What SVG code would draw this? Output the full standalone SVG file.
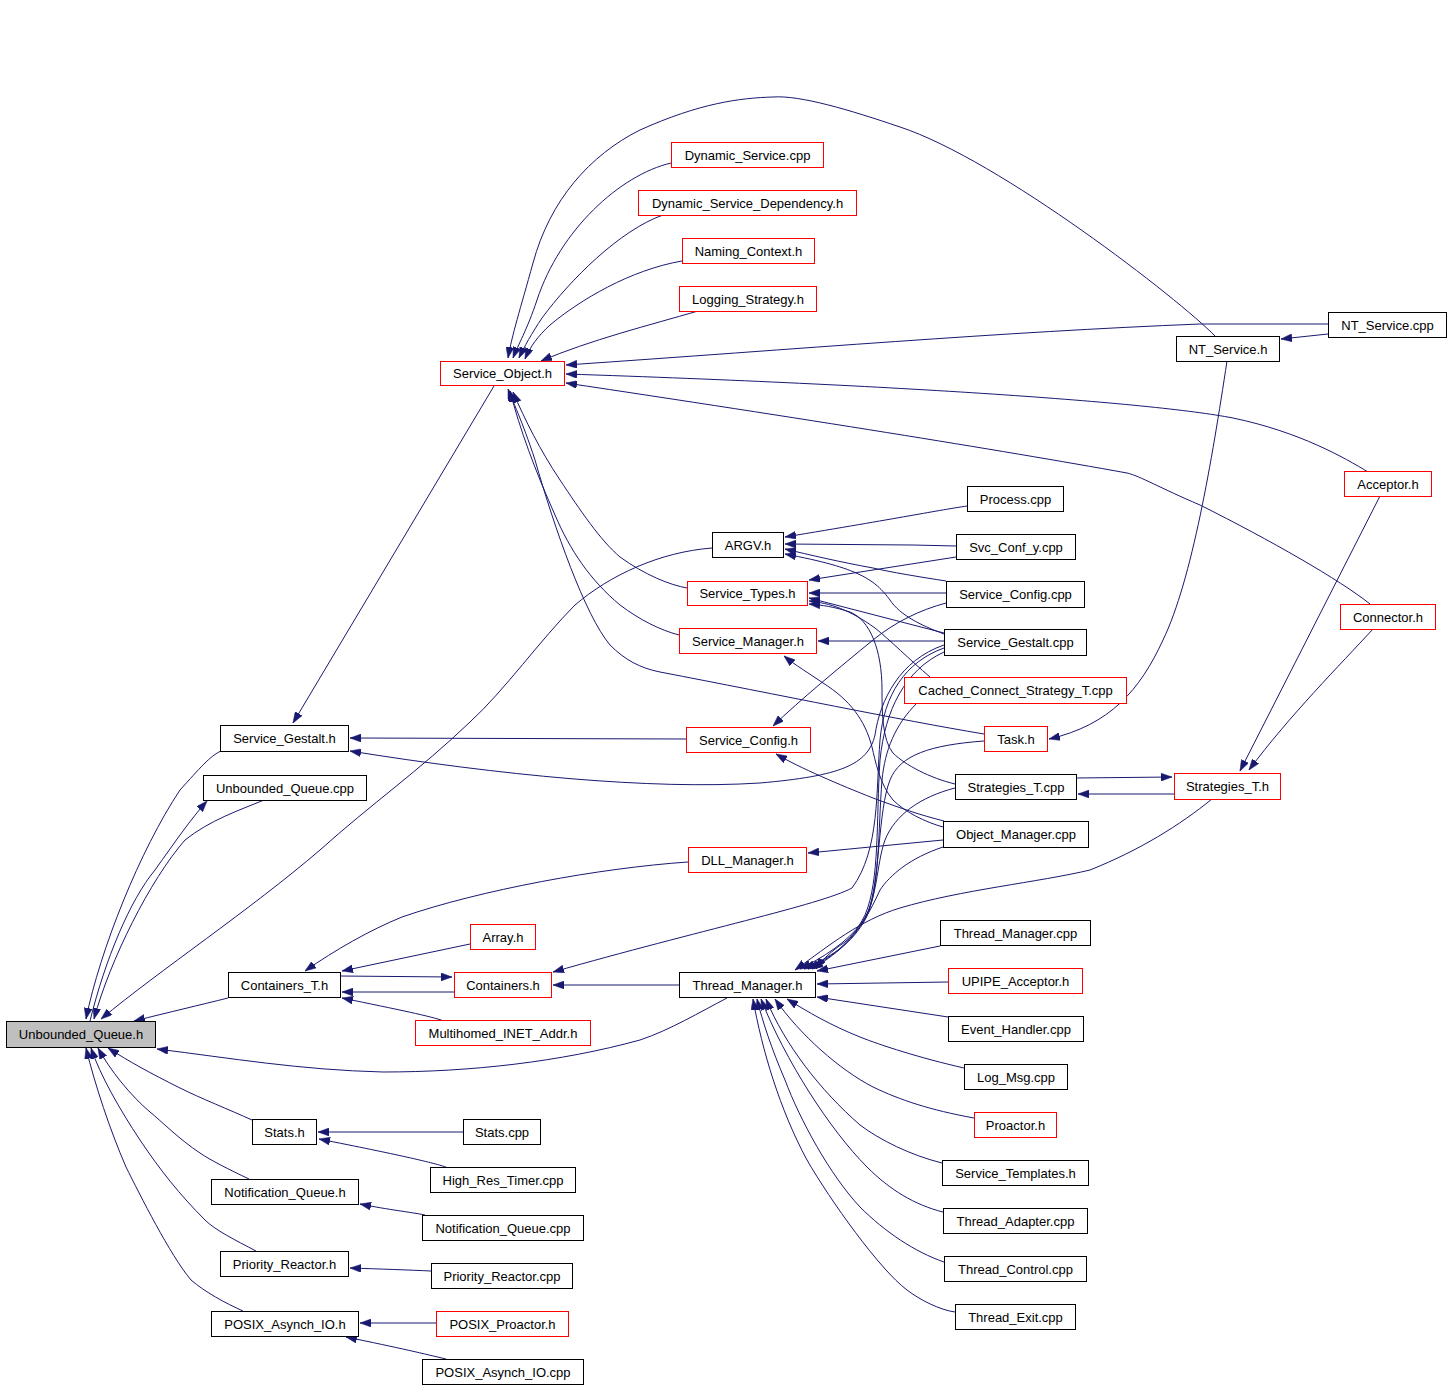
<svg xmlns="http://www.w3.org/2000/svg" width="1451" height="1388" viewBox="0 0 1451 1388">
<style>
.n rect{fill:#fff;stroke:#000;stroke-width:1}
.n.r rect{stroke:#f00}
.n.root rect{fill:#bfbfbf}
.n text{font-family:"Liberation Sans",Arial,sans-serif;font-size:13px;fill:#000;text-anchor:middle}
#edges path{fill:none;stroke:#191970;stroke-width:1;marker-end:url(#arr)}
</style>
<defs>
<marker id="arr" markerWidth="11" markerHeight="8" refX="11" refY="4" orient="auto" markerUnits="userSpaceOnUse"><path d="M0,0L11,4L0,8z" fill="#191970" stroke="#191970" stroke-width="0.5"/></marker>
</defs>
<rect width="1451" height="1388" fill="#fff"/>
<g id="edges">
<path d="M1215,336 C1180,300 1000,160 900,127 C850,110 800,95 773,97 C740,98 700,103 640,130 C590,155 550,200 533,263 C520,310 512,335 508,358"/>
<path d="M671,163 C620,175 560,230 537,300 C527,330 518,345 513,358"/>
<path d="M663,215 C620,230 570,280 542,318 C532,333 524,347 519,358"/>
<path d="M682,261 C630,270 580,300 550,325 C538,336 530,347 525,359"/>
<path d="M698,311 C650,325 590,340 541,361"/>
<path d="M1328,324 L1200,324 C1000,332 800,349 566,365"/>
<path d="M1368,472 C1345,458 1300,432 1233,418 C1150,402 900,385 566,374"/>
<path d="M1370,604 C1340,580 1270,540 1200,505 C1160,488 1140,476 1127,473 C1000,450 800,418 566,383"/>
<path d="M1328,334 L1281,339"/>
<path d="M1227,361 C1212,460 1192,580 1163,640 C1140,690 1110,725 1049,739"/>
<path d="M1380,496 L1240,771"/>
<path d="M1373,629 C1340,665 1290,715 1249,770"/>
<path d="M1076,778 L1172,777"/>
<path d="M1174,794 L1078,794"/>
<path d="M1212,799 C1180,825 1140,850 1090,870 C1040,882 960,890 900,908 C860,920 830,945 795,970"/>
<path d="M940,946 L817,971"/>
<path d="M948,982 L817,984"/>
<path d="M948,1017 L817,997"/>
<path d="M964,1068 C920,1058 880,1045 860,1037 C830,1025 808,1012 787,999"/>
<path d="M974,1118 C930,1110 900,1100 873,1087 C840,1070 800,1035 775,999"/>
<path d="M942,1163 C910,1155 880,1140 860,1125 C820,1090 785,1045 766,999"/>
<path d="M943,1212 C915,1205 890,1190 867,1167 C830,1130 785,1060 761,999"/>
<path d="M944,1262 C915,1252 885,1232 860,1207 C830,1175 800,1120 785,1080 C772,1050 762,1020 757,999"/>
<path d="M955,1312 C940,1310 920,1300 907,1290 C880,1270 830,1200 807,1160 C780,1110 762,1050 753,999"/>
<path d="M727,998 C700,1012 670,1030 640,1040 C560,1062 470,1072 383,1072 C300,1070 230,1058 157,1049"/>
<path d="M679,985 L553,985"/>
<path d="M340,976 L452,977"/>
<path d="M454,992 L342,992"/>
<path d="M470,944 L342,971"/>
<path d="M444,1021 C430,1016 400,1010 342,998"/>
<path d="M688,862 C600,868 480,890 402,917 C370,930 335,950 305,971"/>
<path d="M944,648 C905,662 884,695 880,740 C876,790 880,850 852,888 C820,905 700,930 553,972"/>
<path d="M944,645 C900,660 880,700 875,735 C868,765 840,776 760,783 C650,790 500,775 350,751"/>
<path d="M686,739 L350,738"/>
<path d="M494,386 L293,723"/>
<path d="M221,751 C210,756 200,768 180,790 C140,850 100,950 86,1019"/>
<path d="M264,800 C240,810 210,820 185,840 C150,880 110,960 94,1019"/>
<path d="M90,1021 C105,960 130,900 155,870 C175,842 190,820 207,801"/>
<path d="M712,548 C660,552 610,575 575,605 C540,640 505,690 470,722 C420,770 370,805 320,850 C250,910 160,970 101,1019"/>
<path d="M228,998 C200,1005 170,1012 134,1021"/>
<path d="M252,1120 C230,1110 200,1098 180,1088 C150,1073 130,1062 108,1048"/>
<path d="M249,1179 C230,1170 210,1160 200,1153 C180,1140 160,1120 150,1112 C130,1095 110,1070 98,1048"/>
<path d="M256,1251 C235,1240 215,1230 205,1220 C180,1195 160,1170 140,1140 C120,1110 100,1075 91,1048"/>
<path d="M243,1311 C225,1303 205,1292 191,1280 C170,1255 140,1195 126,1167 C110,1130 95,1085 86,1048"/>
<path d="M463,1132 L318,1132"/>
<path d="M446,1167 C430,1162 400,1155 319,1139"/>
<path d="M425,1215 C410,1212 390,1210 360,1204"/>
<path d="M431,1271 C410,1270 380,1269 350,1268"/>
<path d="M436,1323 L360,1323"/>
<path d="M446,1359 C425,1354 400,1348 346,1337"/>
<path d="M967,506 C940,510 900,518 785,537"/>
<path d="M956,546 L913,545 L785,544"/>
<path d="M946,581 C920,577 890,572 873,568 C840,562 810,555 785,549"/>
<path d="M944,634 C920,625 900,615 890,600 C875,580 860,568 785,554"/>
<path d="M956,557 L809,580"/>
<path d="M946,593 L809,593"/>
<path d="M944,633 L809,598"/>
<path d="M930,677 C910,660 890,640 875,628 C850,610 830,603 809,601"/>
<path d="M955,784 C930,778 905,765 893,753 C882,740 882,710 882,690 C882,650 870,620 850,612 C835,607 822,605 809,604"/>
<path d="M944,641 L818,641"/>
<path d="M943,827 C925,822 905,812 893,800 C880,785 875,760 872,747 C865,720 850,700 823,683 C810,674 795,665 784,656"/>
<path d="M946,603 C920,610 895,622 873,640 C840,667 800,700 773,726"/>
<path d="M944,821 C920,815 900,808 873,798 C840,785 800,768 776,754"/>
<path d="M943,840 L808,853"/>
<path d="M944,652 C905,670 885,710 880,760 C876,820 880,880 865,915 C850,945 830,958 808,969"/>
<path d="M984,741 C930,745 900,755 890,780 C878,810 880,880 868,912 C855,940 835,955 812,969"/>
<path d="M917,703 C895,725 885,750 882,780 C878,830 880,890 866,918 C852,945 828,958 804,969"/>
<path d="M955,788 C920,797 895,815 885,840 C876,865 878,900 862,922 C848,942 822,958 800,969"/>
<path d="M943,847 C910,858 890,875 880,890 C870,912 860,930 845,942 C830,952 822,960 816,969"/>
<path d="M984,734 C900,720 780,695 660,672 C640,668 625,660 610,645 C585,615 555,530 535,460 C522,420 512,400 508,389"/>
<path d="M687,588 C670,585 645,575 620,557 C600,540 580,510 560,480 C540,450 525,420 513,392"/>
<path d="M679,635 C660,630 640,620 620,605 C590,580 570,550 555,515 C535,470 520,430 510,391"/>
</g>
<g id="n_dynamic_service_cpp" class="n r"><rect x="671.5" y="142.5" width="152" height="25"/><text x="747.5" y="159.5">Dynamic_Service.cpp</text></g>
<g id="n_dynamic_service_dependency_h" class="n r"><rect x="638.5" y="190.5" width="218" height="25"/><text x="747.5" y="207.5">Dynamic_Service_Dependency.h</text></g>
<g id="n_naming_context_h" class="n r"><rect x="682.5" y="238.5" width="132" height="25"/><text x="748.5" y="255.5">Naming_Context.h</text></g>
<g id="n_logging_strategy_h" class="n r"><rect x="679.5" y="286.5" width="137" height="25"/><text x="748" y="303.5">Logging_Strategy.h</text></g>
<g id="n_service_object_h" class="n r"><rect x="440.5" y="361.5" width="124" height="24"/><text x="502.5" y="378">Service_Object.h</text></g>
<g id="n_nt_service_cpp" class="n"><rect x="1328.5" y="312.5" width="118" height="25"/><text x="1387.5" y="329.5">NT_Service.cpp</text></g>
<g id="n_nt_service_h" class="n"><rect x="1176.5" y="336.5" width="103" height="25"/><text x="1228" y="353.5">NT_Service.h</text></g>
<g id="n_acceptor_h" class="n r"><rect x="1344.5" y="471.5" width="87" height="25"/><text x="1388" y="488.5">Acceptor.h</text></g>
<g id="n_connector_h" class="n r"><rect x="1340.5" y="604.5" width="95" height="25"/><text x="1388" y="621.5">Connector.h</text></g>
<g id="n_process_cpp" class="n"><rect x="967.5" y="486.5" width="96" height="25"/><text x="1015.5" y="503.5">Process.cpp</text></g>
<g id="n_argv_h" class="n"><rect x="712.5" y="532.5" width="71" height="25"/><text x="748" y="549.5">ARGV.h</text></g>
<g id="n_svc_conf_y_cpp" class="n"><rect x="956.5" y="534.5" width="119" height="25"/><text x="1016" y="551.5">Svc_Conf_y.cpp</text></g>
<g id="n_service_types_h" class="n r"><rect x="687.5" y="581.5" width="120" height="24"/><text x="747.5" y="598">Service_Types.h</text></g>
<g id="n_service_config_cpp" class="n"><rect x="946.5" y="581.5" width="138" height="26"/><text x="1015.5" y="599">Service_Config.cpp</text></g>
<g id="n_service_manager_h" class="n r"><rect x="679.5" y="628.5" width="137" height="25"/><text x="748" y="645.5">Service_Manager.h</text></g>
<g id="n_service_gestalt_cpp" class="n"><rect x="944.5" y="629.5" width="142" height="26"/><text x="1015.5" y="647">Service_Gestalt.cpp</text></g>
<g id="n_cached_connect_strategy_t_cpp" class="n r"><rect x="904.5" y="677.5" width="222" height="26"/><text x="1015.5" y="695">Cached_Connect_Strategy_T.cpp</text></g>
<g id="n_service_config_h" class="n r"><rect x="686.5" y="727.5" width="124" height="25"/><text x="748.5" y="744.5">Service_Config.h</text></g>
<g id="n_task_h" class="n r"><rect x="984.5" y="726.5" width="63" height="25"/><text x="1016" y="743.5">Task.h</text></g>
<g id="n_service_gestalt_h" class="n"><rect x="220.5" y="725.5" width="128" height="26"/><text x="284.5" y="743">Service_Gestalt.h</text></g>
<g id="n_unbounded_queue_cpp" class="n"><rect x="203.5" y="775.5" width="163" height="25"/><text x="285" y="792.5">Unbounded_Queue.cpp</text></g>
<g id="n_strategies_t_cpp" class="n"><rect x="955.5" y="774.5" width="121" height="25"/><text x="1016" y="791.5">Strategies_T.cpp</text></g>
<g id="n_strategies_t_h" class="n r"><rect x="1174.5" y="773.5" width="106" height="26"/><text x="1227.5" y="791">Strategies_T.h</text></g>
<g id="n_object_manager_cpp" class="n"><rect x="943.5" y="821.5" width="145" height="26"/><text x="1016" y="839">Object_Manager.cpp</text></g>
<g id="n_dll_manager_h" class="n r"><rect x="688.5" y="847.5" width="118" height="25"/><text x="747.5" y="864.5">DLL_Manager.h</text></g>
<g id="n_array_h" class="n r"><rect x="470.5" y="924.5" width="65" height="25"/><text x="503" y="941.5">Array.h</text></g>
<g id="n_thread_manager_cpp" class="n"><rect x="940.5" y="920.5" width="150" height="25"/><text x="1015.5" y="937.5">Thread_Manager.cpp</text></g>
<g id="n_containers_t_h" class="n"><rect x="228.5" y="972.5" width="112" height="25"/><text x="284.5" y="989.5">Containers_T.h</text></g>
<g id="n_containers_h" class="n r"><rect x="454.5" y="972.5" width="97" height="25"/><text x="503" y="989.5">Containers.h</text></g>
<g id="n_thread_manager_h" class="n"><rect x="679.5" y="972.5" width="136" height="25"/><text x="747.5" y="989.5">Thread_Manager.h</text></g>
<g id="n_upipe_acceptor_h" class="n r"><rect x="948.5" y="968.5" width="134" height="25"/><text x="1015.5" y="985.5">UPIPE_Acceptor.h</text></g>
<g id="n_multihomed_inet_addr_h" class="n r"><rect x="415.5" y="1020.5" width="175" height="25"/><text x="503" y="1037.5">Multihomed_INET_Addr.h</text></g>
<g id="n_unbounded_queue_h" class="n root"><rect x="6.5" y="1021.5" width="149" height="26"/><text x="81" y="1039">Unbounded_Queue.h</text></g>
<g id="n_event_handler_cpp" class="n"><rect x="948.5" y="1016.5" width="135" height="25"/><text x="1016" y="1033.5">Event_Handler.cpp</text></g>
<g id="n_log_msg_cpp" class="n"><rect x="964.5" y="1064.5" width="103" height="25"/><text x="1016" y="1081.5">Log_Msg.cpp</text></g>
<g id="n_stats_h" class="n"><rect x="252.5" y="1119.5" width="64" height="25"/><text x="284.5" y="1136.5">Stats.h</text></g>
<g id="n_stats_cpp" class="n"><rect x="463.5" y="1119.5" width="77" height="25"/><text x="502" y="1136.5">Stats.cpp</text></g>
<g id="n_proactor_h" class="n r"><rect x="974.5" y="1112.5" width="82" height="25"/><text x="1015.5" y="1129.5">Proactor.h</text></g>
<g id="n_service_templates_h" class="n"><rect x="942.5" y="1160.5" width="146" height="25"/><text x="1015.5" y="1177.5">Service_Templates.h</text></g>
<g id="n_high_res_timer_cpp" class="n"><rect x="430.5" y="1167.5" width="145" height="25"/><text x="503" y="1184.5">High_Res_Timer.cpp</text></g>
<g id="n_notification_queue_h" class="n"><rect x="211.5" y="1179.5" width="147" height="25"/><text x="285" y="1196.5">Notification_Queue.h</text></g>
<g id="n_notification_queue_cpp" class="n"><rect x="422.5" y="1215.5" width="161" height="25"/><text x="503" y="1232.5">Notification_Queue.cpp</text></g>
<g id="n_thread_adapter_cpp" class="n"><rect x="943.5" y="1208.5" width="144" height="25"/><text x="1015.5" y="1225.5">Thread_Adapter.cpp</text></g>
<g id="n_priority_reactor_h" class="n"><rect x="220.5" y="1251.5" width="128" height="25"/><text x="284.5" y="1268.5">Priority_Reactor.h</text></g>
<g id="n_priority_reactor_cpp" class="n"><rect x="431.5" y="1263.5" width="141" height="25"/><text x="502" y="1280.5">Priority_Reactor.cpp</text></g>
<g id="n_thread_control_cpp" class="n"><rect x="944.5" y="1256.5" width="142" height="25"/><text x="1015.5" y="1273.5">Thread_Control.cpp</text></g>
<g id="n_posix_asynch_io_h" class="n"><rect x="211.5" y="1311.5" width="147" height="25"/><text x="285" y="1328.5">POSIX_Asynch_IO.h</text></g>
<g id="n_posix_proactor_h" class="n r"><rect x="436.5" y="1311.5" width="132" height="25"/><text x="502.5" y="1328.5">POSIX_Proactor.h</text></g>
<g id="n_thread_exit_cpp" class="n"><rect x="955.5" y="1304.5" width="120" height="25"/><text x="1015.5" y="1321.5">Thread_Exit.cpp</text></g>
<g id="n_posix_asynch_io_cpp" class="n"><rect x="422.5" y="1359.5" width="161" height="25"/><text x="503" y="1376.5">POSIX_Asynch_IO.cpp</text></g>
</svg>
